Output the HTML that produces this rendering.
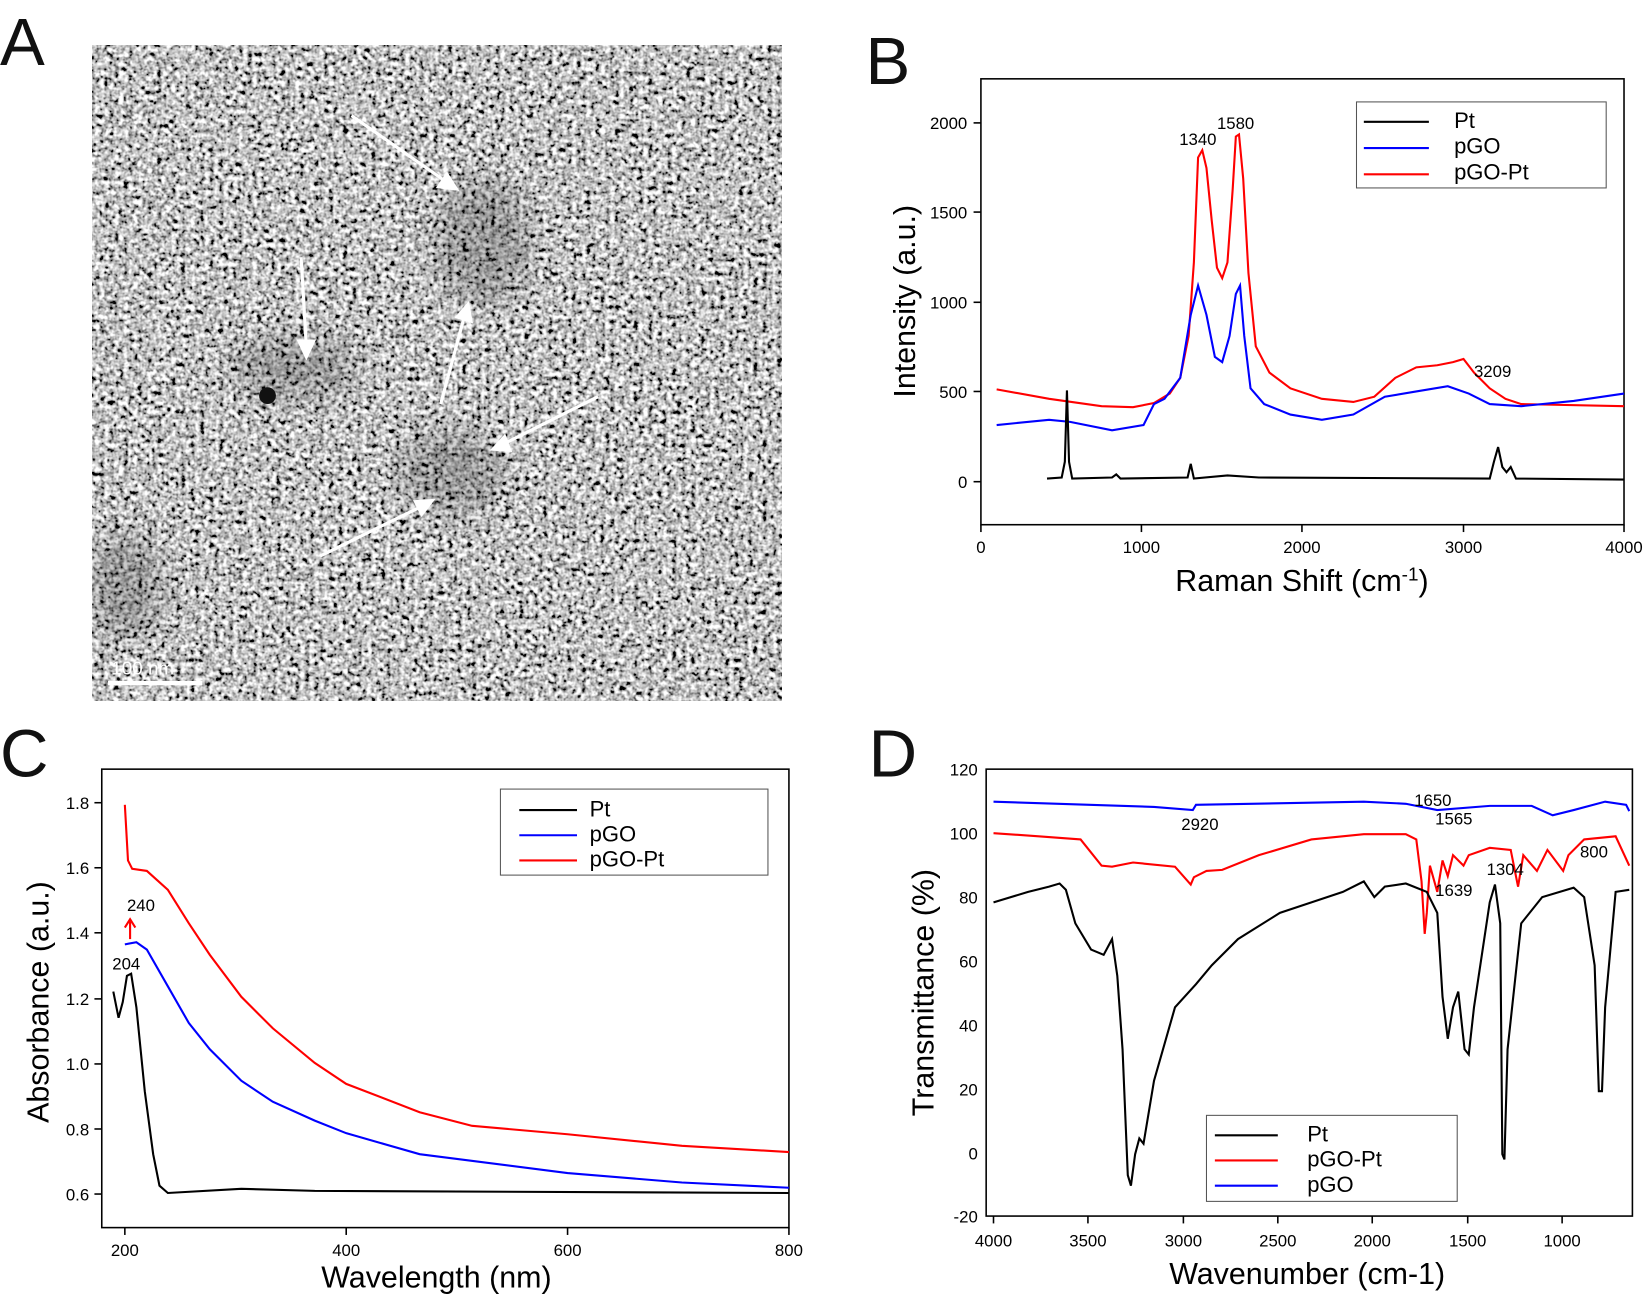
<!DOCTYPE html>
<html><head><meta charset="utf-8"><style>
html,body{margin:0;padding:0;background:#fff;}
svg{display:block;font-family:"Liberation Sans",Arial,sans-serif;}
</style></head><body>
<svg width="1645" height="1297" viewBox="0 0 1568 1236" xmlns="http://www.w3.org/2000/svg">
<defs>
<filter id="noise" x="0" y="0" width="100%" height="100%">
<feTurbulence type="fractalNoise" baseFrequency="0.22" numOctaves="2" seed="3"/>
<feColorMatrix type="matrix" values="0.33 0.33 0.33 0 0  0.33 0.33 0.33 0 0  0.33 0.33 0.33 0 0  0 0 0 0 1"/>
<feComponentTransfer><feFuncR type="linear" slope="4" intercept="-1.45"/><feFuncG type="linear" slope="4" intercept="-1.45"/><feFuncB type="linear" slope="4" intercept="-1.45"/></feComponentTransfer>
</filter>
<filter id="blur"><feGaussianBlur stdDeviation="14"/></filter>
<clipPath id="clipA"><rect x="88" y="43" width="657" height="625"/></clipPath>
</defs>
<rect width="1568" height="1236" fill="#fff"/>
<g font-size="64" fill="#111">
<text x="0" y="62">A</text><text x="825" y="80">B</text>
<text x="0" y="740">C</text><text x="828" y="740">D</text>
</g>
<!-- A -->
<rect x="88" y="43" width="657" height="625" fill="#777"/>
<rect x="88" y="43" width="657" height="625" filter="url(#noise)"/>
<g clip-path="url(#clipA)"><g fill="#000" opacity="0.22" filter="url(#blur)"><ellipse cx="460" cy="230" rx="45" ry="60"/><ellipse cx="430" cy="450" rx="50" ry="40"/><ellipse cx="280" cy="350" rx="60" ry="30"/><ellipse cx="120" cy="560" rx="35" ry="50"/></g></g>
<circle cx="255" cy="377" r="8" fill="#111"/>
<g stroke="#fff" stroke-width="3" fill="#fff">
<line x1="335" y1="110" x2="428" y2="175"/><polygon points="435,180 418,178 426,166"/>
<line x1="287" y1="245" x2="292" y2="330"/><polygon points="292,340 285,325 299,325"/>
<line x1="420" y1="385" x2="443" y2="300"/><polygon points="446,290 449,306 436,302"/>
<line x1="570" y1="378" x2="480" y2="423"/><polygon points="470,428 481,416 486,429"/>
<line x1="305" y1="530" x2="403" y2="482"/><polygon points="412,477 402,490 396,478"/>
</g>
<line x1="103" y1="651" x2="193" y2="651" stroke="#fff" stroke-width="4"/>
<text x="106" y="643" fill="#fff" font-size="18">100 nm</text>
<!-- B -->
<rect x="935" y="75" width="613" height="425" fill="none" stroke="#000" stroke-width="1.5"/>
<g stroke="#000" stroke-width="1.5">
<line x1="935" y1="500" x2="935" y2="507"/><line x1="1088" y1="500" x2="1088" y2="507"/><line x1="1241" y1="500" x2="1241" y2="507"/><line x1="1395" y1="500" x2="1395" y2="507"/><line x1="1548" y1="500" x2="1548" y2="507"/>
<line x1="928" y1="459" x2="935" y2="459"/><line x1="928" y1="373" x2="935" y2="373"/><line x1="928" y1="288" x2="935" y2="288"/><line x1="928" y1="202" x2="935" y2="202"/><line x1="928" y1="117" x2="935" y2="117"/>
</g>
<g font-size="16" text-anchor="middle"><text x="935" y="527">0</text><text x="1088" y="527">1000</text><text x="1241" y="527">2000</text><text x="1395" y="527">3000</text><text x="1548" y="527">4000</text></g>
<g font-size="16" text-anchor="end"><text x="922" y="465">0</text><text x="922" y="379">500</text><text x="922" y="294">1000</text><text x="922" y="208">1500</text><text x="922" y="123">2000</text></g>
<text x="1241" y="563" font-size="29" text-anchor="middle">Raman Shift (cm<tspan dy="-10" font-size="18">-1</tspan><tspan dy="10">)</tspan></text>
<text transform="translate(872,287) rotate(-90)" font-size="29" text-anchor="middle">Intensity (a.u.)</text>
<g fill="none" stroke-width="2">
<polyline stroke="#f00" points="950,371 1000,380 1050,387 1080,388 1100,384 1115,375 1125,360 1133,320 1138,250 1142,150 1146,143 1150,160 1155,210 1160,255 1165,265 1170,250 1175,180 1178,130 1181,128 1185,170 1190,260 1197,330 1210,355 1230,370 1260,380 1290,383 1310,378 1330,360 1350,350 1370,348 1385,345 1395,342 1405,355 1420,370 1435,380 1450,385 1548,387"/>
<polyline stroke="#00f" points="950,405 1000,400 1020,402 1060,410 1090,405 1100,385 1110,380 1125,360 1135,300 1142,272 1150,300 1158,340 1165,345 1172,320 1178,280 1182,272 1186,320 1192,370 1205,385 1230,395 1260,400 1290,395 1320,378 1350,373 1380,368 1400,375 1420,385 1450,387 1500,382 1548,375"/>
<polyline stroke="#000" points="998,456 1012,455 1015,440 1017,372 1019,440 1022,456 1060,455 1064,452 1068,456 1132,455 1135,442 1138,456 1170,453 1200,455 1420,456 1424,440 1428,426 1432,445 1436,450 1440,445 1445,456 1548,457"/>
</g>
<g font-size="16"><text x="1124" y="138">1340</text><text x="1160" y="123">1580</text><text x="1405" y="359">3209</text></g>
<rect x="1293" y="97" width="238" height="82" fill="#fff" stroke="#555"/>
<g stroke-width="2"><line x1="1300" y1="116" x2="1362" y2="116" stroke="#000"/><line x1="1300" y1="141" x2="1362" y2="141" stroke="#00f"/><line x1="1300" y1="166" x2="1362" y2="166" stroke="#f00"/></g>
<g font-size="21"><text x="1386" y="122">Pt</text><text x="1386" y="146">pGO</text><text x="1386" y="171">pGO-Pt</text></g>
<!-- C -->
<rect x="97" y="733" width="655" height="437" fill="none" stroke="#000" stroke-width="1.5"/>
<g stroke="#000" stroke-width="1.5">
<line x1="119" y1="1170" x2="119" y2="1177"/><line x1="330" y1="1170" x2="330" y2="1177"/><line x1="541" y1="1170" x2="541" y2="1177"/><line x1="752" y1="1170" x2="752" y2="1177"/>
<line x1="90" y1="1138" x2="97" y2="1138"/><line x1="90" y1="1076" x2="97" y2="1076"/><line x1="90" y1="1014" x2="97" y2="1014"/><line x1="90" y1="952" x2="97" y2="952"/><line x1="90" y1="889" x2="97" y2="889"/><line x1="90" y1="827" x2="97" y2="827"/><line x1="90" y1="765" x2="97" y2="765"/>
</g>
<g font-size="16" text-anchor="middle"><text x="119" y="1197">200</text><text x="330" y="1197">400</text><text x="541" y="1197">600</text><text x="752" y="1197">800</text></g>
<g font-size="16" text-anchor="end"><text x="85" y="1144">0.6</text><text x="85" y="1082">0.8</text><text x="85" y="1020">1.0</text><text x="85" y="958">1.2</text><text x="85" y="895">1.4</text><text x="85" y="833">1.6</text><text x="85" y="771">1.8</text></g>
<text x="416" y="1227" font-size="29" text-anchor="middle">Wavelength (nm)</text>
<text transform="translate(46,955) rotate(-90)" font-size="29" text-anchor="middle">Absorbance (a.u.)</text>
<g fill="none" stroke-width="2">
<polyline stroke="#f00" points="119,767 122,820 126,828 140,830 160,848 180,880 200,910 230,950 260,980 300,1013 330,1033 400,1060 450,1073 541,1081 650,1092 752,1098"/>
<polyline stroke="#00f" points="119,900 130,898 140,905 160,940 180,975 200,1000 230,1030 260,1050 300,1068 330,1080 400,1100 541,1118 650,1127 752,1132"/>
<polyline stroke="#000" points="108,945 113,970 117,955 121,930 125,928 130,960 138,1040 146,1100 152,1130 160,1137 230,1133 300,1135 752,1137"/>
<polyline stroke="#f00" points="124,895 124,878"/><polyline stroke="#f00" points="119,884 124,876 129,884"/>
</g>
<g font-size="16"><text x="121" y="868">240</text><text x="107" y="924">204</text></g>
<rect x="477" y="752" width="255" height="82" fill="#fff" stroke="#555"/>
<g stroke-width="2"><line x1="495" y1="772" x2="550" y2="772" stroke="#000"/><line x1="495" y1="796" x2="550" y2="796" stroke="#00f"/><line x1="495" y1="820" x2="550" y2="820" stroke="#f00"/></g>
<g font-size="21"><text x="562" y="778">Pt</text><text x="562" y="802">pGO</text><text x="562" y="826">pGO-Pt</text></g>
<!-- D -->
<rect x="940" y="733" width="616" height="426" fill="none" stroke="#000" stroke-width="1.5"/>
<g stroke="#000" stroke-width="1.5">
<line x1="947" y1="1159" x2="947" y2="1166"/><line x1="1037" y1="1159" x2="1037" y2="1166"/><line x1="1128" y1="1159" x2="1128" y2="1166"/><line x1="1218" y1="1159" x2="1218" y2="1166"/><line x1="1308" y1="1159" x2="1308" y2="1166"/><line x1="1399" y1="1159" x2="1399" y2="1166"/><line x1="1489" y1="1159" x2="1489" y2="1166"/>
</g>
<g font-size="16" text-anchor="middle"><text x="947" y="1188">4000</text><text x="1037" y="1188">3500</text><text x="1128" y="1188">3000</text><text x="1218" y="1188">2500</text><text x="1308" y="1188">2000</text><text x="1399" y="1188">1500</text><text x="1489" y="1188">1000</text></g>
<g font-size="16" text-anchor="end"><text x="932" y="739">120</text><text x="932" y="800">100</text><text x="932" y="861">80</text><text x="932" y="922">60</text><text x="932" y="983">40</text><text x="932" y="1044">20</text><text x="932" y="1105">0</text><text x="932" y="1165">-20</text></g>
<text x="1246" y="1224" font-size="29" text-anchor="middle">Wavenumber (cm-1)</text>
<text transform="translate(890,946) rotate(-90)" font-size="29" text-anchor="middle">Transmittance (%)</text>
<g fill="none" stroke-width="2">
<polyline stroke="#00f" points="947,764 1100,769 1137,772 1140,767 1300,764 1340,766 1370,772 1420,768 1460,768 1480,777 1500,772 1530,764 1550,767 1553,773"/>
<polyline stroke="#f00" points="947,794 990,797 1030,800 1050,825 1060,826 1080,822 1120,826 1135,843 1138,836 1150,830 1165,829 1200,815 1250,800 1300,795 1340,795 1350,800 1355,840 1358,890 1360,870 1363,825 1370,850 1375,820 1380,835 1385,815 1395,825 1400,815 1420,808 1440,810 1447,845 1452,815 1465,830 1475,810 1490,830 1495,815 1510,800 1540,797 1553,825"/>
<polyline stroke="#000" points="947,860 980,850 1000,845 1010,842 1016,848 1025,880 1040,905 1052,910 1060,895 1065,930 1070,1000 1075,1120 1078,1130 1082,1100 1086,1085 1090,1090 1100,1030 1120,960 1140,938 1155,920 1180,895 1220,870 1250,860 1280,850 1300,840 1310,855 1320,845 1340,842 1360,850 1370,870 1375,950 1380,990 1385,960 1390,945 1396,1000 1400,1005 1405,960 1420,860 1425,843 1430,880 1432,1100 1434,1105 1437,1000 1450,880 1470,855 1500,846 1510,855 1520,920 1524,1040 1527,1040 1530,960 1540,850 1553,848"/>
</g>
<g font-size="16"><text x="1126" y="791">2920</text><text x="1348" y="768">1650</text><text x="1368" y="786">1565</text><text x="1368" y="854">1639</text><text x="1417" y="834">1304</text><text x="1506" y="817">800</text></g>
<rect x="1150" y="1063" width="239" height="82" fill="#fff" stroke="#555"/>
<g stroke-width="2"><line x1="1158" y1="1082" x2="1218" y2="1082" stroke="#000"/><line x1="1158" y1="1106" x2="1218" y2="1106" stroke="#f00"/><line x1="1158" y1="1130" x2="1218" y2="1130" stroke="#00f"/></g>
<g font-size="21"><text x="1246" y="1088">Pt</text><text x="1246" y="1112">pGO-Pt</text><text x="1246" y="1136">pGO</text></g>
</svg>
</body></html>
